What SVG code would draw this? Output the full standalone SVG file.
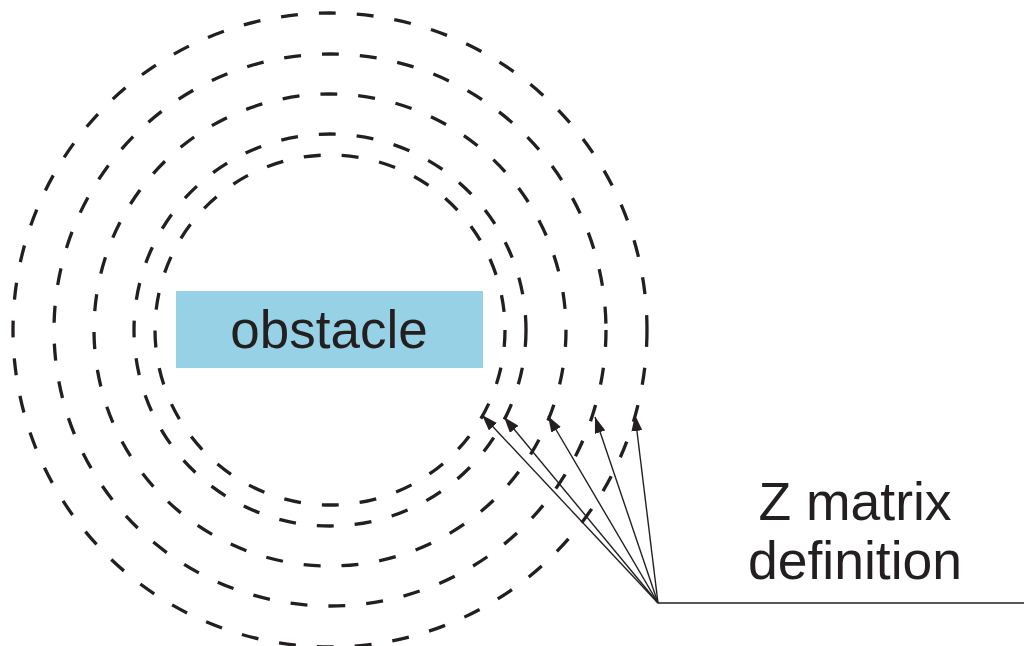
<svg xmlns="http://www.w3.org/2000/svg" width="1024" height="646" viewBox="0 0 1024 646">
<style>
.ring{fill:none;stroke:#231F20;stroke-width:3.3;stroke-dasharray:17 21}
.arr{fill:none;stroke:#231F20;stroke-width:1.4}
.lbl{font-family:"Liberation Sans",Arial,sans-serif;fill:#231F20;text-anchor:middle}
</style>
<defs>
<marker id="ah" viewBox="0 0 16 11" refX="16" refY="5.5" markerWidth="16" markerHeight="11" markerUnits="userSpaceOnUse" orient="auto">
<path d="M0,0 L16,5.5 L0,11 Z" fill="#231F20"/>
</marker>
</defs>
<rect width="1024" height="646" fill="#ffffff"/>
<g id="rings">
<circle class="ring" cx="330" cy="330" r="175"/>
<circle class="ring" cx="330" cy="330" r="196"/>
<circle class="ring" cx="330" cy="330" r="236"/>
<circle class="ring" cx="330" cy="330" r="276"/>
<circle class="ring" cx="330" cy="330" r="317"/>
</g>
<g id="obstacle">
<rect x="176" y="291" width="307" height="77" fill="#96D1E5"/>
<text class="lbl" x="329" y="348" font-size="53">obstacle</text>
</g>
<g id="label">
<text class="lbl" x="855" y="520" font-size="53.5">Z matrix</text>
<text class="lbl" x="855" y="579" font-size="53.5">definition</text>
</g>
<g id="connectors">
<line class="arr" x1="658" y1="603" x2="1024" y2="603" stroke-width="1.6"/>
<line class="arr" x1="658" y1="603" x2="482" y2="415" marker-end="url(#ah)"/>
<line class="arr" x1="658" y1="603" x2="504" y2="417" marker-end="url(#ah)"/>
<line class="arr" x1="658" y1="603" x2="548" y2="416" marker-end="url(#ah)"/>
<line class="arr" x1="658" y1="603" x2="595" y2="417" marker-end="url(#ah)"/>
<line class="arr" x1="658" y1="603" x2="635" y2="415" marker-end="url(#ah)"/>
</g>
</svg>
